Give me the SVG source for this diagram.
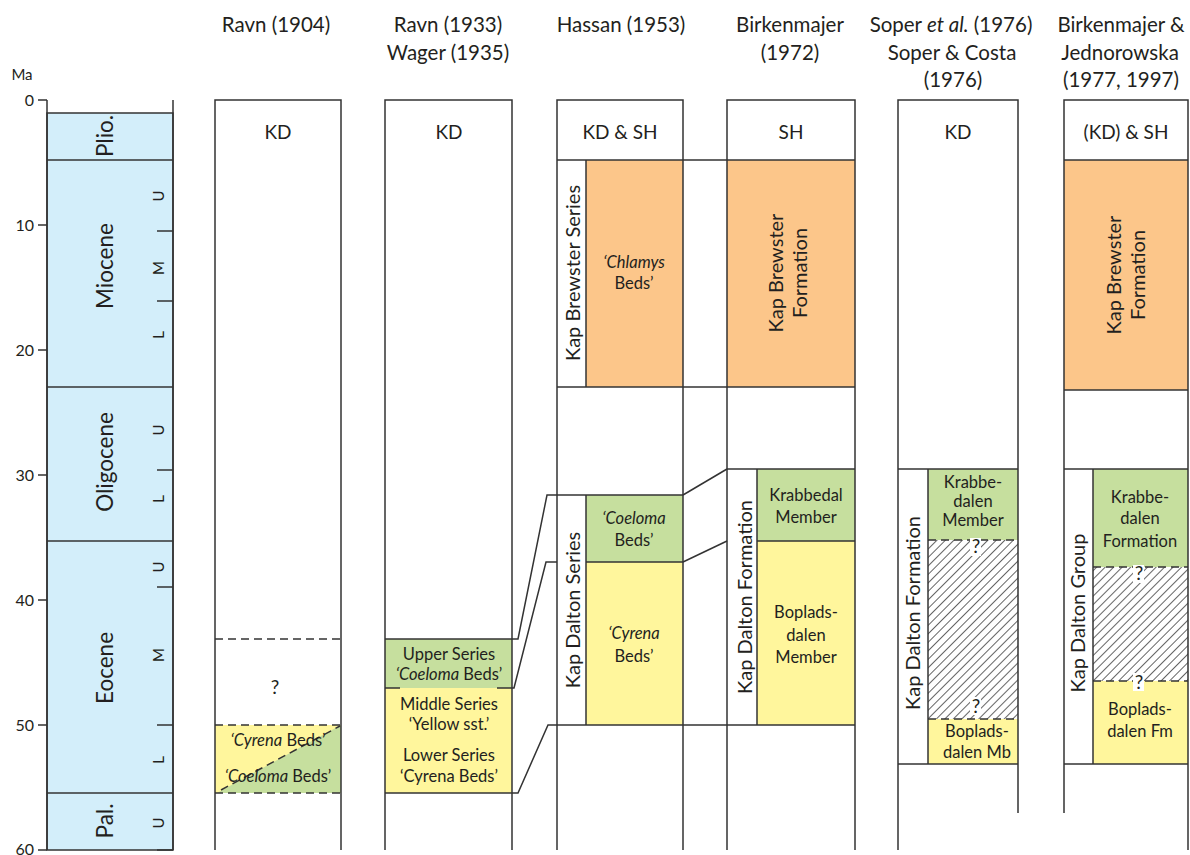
<svg xmlns="http://www.w3.org/2000/svg" width="1190" height="855" viewBox="0 0 1190 855">
<style>
text{font-family:Lato,"Liberation Sans",sans-serif;fill:#231f20}
.h{font-size:20.5px;text-anchor:middle}
.kd{font-size:19px;text-anchor:middle}
.t{font-size:16.5px;text-anchor:middle}
.q{font-size:19px;text-anchor:middle}
.r{font-size:20px;text-anchor:middle}
.ep{font-size:22.5px;text-anchor:middle}
.sub{font-size:15px;text-anchor:middle}
.num{font-size:16px;text-anchor:end}
.i{font-style:italic}
.ln{stroke:#333;stroke-width:1.5;fill:none}
.bx{stroke:#333;stroke-width:1.5}
.dash{stroke:#333;stroke-width:1.5;stroke-dasharray:8 5;fill:none}
.blue{fill:#d3eefa}
.or{fill:#fcc68a}
.gr{fill:#c6df9e}
.ye{fill:#fff69c}
.wh{fill:#fff}
</style>
<defs>
<pattern id="hatch" width="6" height="6" patternUnits="userSpaceOnUse" patternTransform="rotate(45)">
<rect width="6" height="6" fill="#fff"/>
<line x1="0" y1="0" x2="0" y2="6" stroke="#222" stroke-width="1.4"/>
</pattern>
</defs>
<rect width="1190" height="855" fill="#fff"/>

<g id="headers">
<text class="h" x="276" y="32">Ravn (1904)</text>
<text class="h" x="448" y="32">Ravn (1933)</text>
<text class="h" x="448" y="60">Wager (1935)</text>
<text class="h" x="621" y="32">Hassan (1953)</text>
<text class="h" x="790" y="32">Birkenmajer</text>
<text class="h" x="790" y="60">(1972)</text>
<text class="h" x="951" y="32">Soper <tspan class="i">et al.</tspan> (1976)</text>
<text class="h" x="952" y="60">Soper &amp; Costa</text>
<text class="h" x="953" y="87">(1976)</text>
<text class="h" x="1121" y="32">Birkenmajer &amp;</text>
<text class="h" x="1120" y="60">Jednorowska</text>
<text class="h" x="1121" y="87">(1977, 1997)</text>
</g>

<g id="timescale">
<text class="t" x="22" y="80" style="font-size:15px">Ma</text>
<rect class="blue bx" x="47" y="113" width="126" height="737"/>
<line class="ln" x1="47" y1="100" x2="47" y2="850"/>
<line class="ln" x1="173" y1="100" x2="173" y2="850"/>
<line class="ln" x1="47" y1="160" x2="173" y2="160"/>
<line class="ln" x1="47" y1="387" x2="173" y2="387"/>
<line class="ln" x1="47" y1="541" x2="173" y2="541"/>
<line class="ln" x1="47" y1="793" x2="173" y2="793"/>
<path class="ln" d="M38 100H47M38 225H47M38 350H47M38 475H47M38 600H47M38 725H47M38 850H47"/>
<path class="ln" d="M157 231H173M157 301H173M157 470H173M157 587H173M157 725H173M157 850H173"/>
<text class="num" x="34" y="106">0</text>
<text class="num" x="34" y="231">10</text>
<text class="num" x="34" y="356">20</text>
<text class="num" x="34" y="481">30</text>
<text class="num" x="34" y="606">40</text>
<text class="num" x="34" y="731">50</text>
<text class="num" x="34" y="855">60</text>
<text class="ep" transform="translate(113,136) rotate(-90)">Plio.</text>
<text class="ep" transform="translate(113,266) rotate(-90)">Miocene</text>
<text class="ep" transform="translate(113,462) rotate(-90)">Oligocene</text>
<text class="ep" transform="translate(113,668) rotate(-90)">Eocene</text>
<text class="ep" transform="translate(113,821) rotate(-90)">Pal.</text>
<text class="sub" transform="translate(164,196) rotate(-90)">U</text>
<text class="sub" transform="translate(164,268) rotate(-90)">M</text>
<text class="sub" transform="translate(164,335) rotate(-90)">L</text>
<text class="sub" transform="translate(164,430) rotate(-90)">U</text>
<text class="sub" transform="translate(164,499) rotate(-90)">L</text>
<text class="sub" transform="translate(164,567) rotate(-90)">U</text>
<text class="sub" transform="translate(164,655) rotate(-90)">M</text>
<text class="sub" transform="translate(164,760) rotate(-90)">L</text>
<text class="sub" transform="translate(164,823) rotate(-90)">U</text>
</g>

<g id="ravn1904">
<rect class="ye" x="215" y="725" width="126" height="68"/>
<polygon class="gr" points="217,793 341,725 341,793"/>
<path class="ln" d="M215 850V100H341V850"/>
<line class="dash" x1="215" y1="639" x2="341" y2="639"/>
<line class="dash" x1="215" y1="725" x2="341" y2="725"/>
<line class="dash" x1="215" y1="793" x2="341" y2="793"/>
<line class="dash" x1="221" y1="790" x2="340" y2="726"/>
<text class="kd" x="278" y="139">KD</text>
<text class="q" x="275" y="694">?</text>
<text class="t" x="278" y="746"><tspan class="i">‘Cyrena</tspan> Beds’</text>
<text class="t" x="278" y="782"><tspan class="i">‘Coeloma</tspan> Beds’</text>
</g>

<g id="ravn1933">
<rect class="gr" x="385" y="639" width="127" height="49"/>
<rect class="ye" x="385" y="688" width="127" height="105"/>
<path class="ln" d="M385 850V100H512V850"/>
<line class="ln" x1="385" y1="639" x2="512" y2="639"/>
<path class="ln" d="M385 688H400M497 688H512"/>
<line class="ln" x1="385" y1="793" x2="512" y2="793"/>
<text class="kd" x="449" y="139">KD</text>
<text class="t" x="449" y="660">Upper Series</text>
<text class="t" x="449" y="680"><tspan class="i">‘Coeloma</tspan> Beds’</text>
<text class="t" x="449" y="710">Middle Series</text>
<text class="t" x="449" y="730">‘Yellow sst.’</text>
<text class="t" x="449" y="761">Lower Series</text>
<text class="t" x="449" y="782">‘Cyrena Beds’</text>
</g>

<g id="hassan1953">
<rect class="or" x="586" y="160" width="97" height="227"/>
<rect class="gr" x="586" y="495" width="97" height="67"/>
<rect class="ye" x="586" y="562" width="97" height="163"/>
<path class="ln" d="M557 850V100H683V850"/>
<line class="ln" x1="557" y1="160" x2="683" y2="160"/>
<line class="ln" x1="557" y1="387" x2="683" y2="387"/>
<line class="ln" x1="586" y1="160" x2="586" y2="387"/>
<line class="ln" x1="557" y1="495" x2="683" y2="495"/>
<line class="ln" x1="586" y1="562" x2="683" y2="562"/>
<line class="ln" x1="586" y1="495" x2="586" y2="725"/>
<line class="ln" x1="557" y1="725" x2="683" y2="725"/>
<text class="kd" x="620" y="139">KD &amp; SH</text>
<text class="r" transform="translate(580,273) rotate(-90)">Kap Brewster Series</text>
<text class="t i" x="634" y="268">‘Chlamys</text>
<text class="t" x="634" y="289">Beds’</text>
<text class="r" transform="translate(580,610) rotate(-90)">Kap Dalton Series</text>
<text class="t i" x="634" y="524">‘Coeloma</text>
<text class="t" x="634" y="546">Beds’</text>
<text class="t i" x="634" y="639">‘Cyrena</text>
<text class="t" x="634" y="662">Beds’</text>
</g>

<g id="birkenmajer1972">
<rect class="or" x="727" y="160" width="128" height="227"/>
<rect class="gr" x="757" y="469" width="98" height="72"/>
<rect class="ye" x="757" y="541" width="98" height="184"/>
<path class="ln" d="M727 850V100H855V850"/>
<line class="ln" x1="727" y1="160" x2="855" y2="160"/>
<line class="ln" x1="727" y1="387" x2="855" y2="387"/>
<line class="ln" x1="727" y1="469" x2="855" y2="469"/>
<line class="ln" x1="757" y1="541" x2="855" y2="541"/>
<line class="ln" x1="757" y1="469" x2="757" y2="725"/>
<line class="ln" x1="727" y1="725" x2="855" y2="725"/>
<text class="kd" x="791" y="139">SH</text>
<text class="r" transform="translate(783,273) rotate(-90)">Kap Brewster</text>
<text class="r" transform="translate(807,273) rotate(-90)">Formation</text>
<text class="r" transform="translate(752,597) rotate(-90)">Kap Dalton Formation</text>
<text class="t" x="806" y="501">Krabbedal</text>
<text class="t" x="806" y="523">Member</text>
<text class="t" x="806" y="618">Boplads-</text>
<text class="t" x="806" y="641">dalen</text>
<text class="t" x="806" y="663">Member</text>
</g>

<g id="soper1976">
<rect class="gr" x="928" y="469" width="90" height="71"/>
<rect x="928" y="540" width="90" height="179" fill="url(#hatch)"/>
<rect class="ye" x="928" y="719" width="90" height="45"/>
<path class="ln" d="M898 850V100H1018V813"/>
<line class="ln" x1="898" y1="469" x2="1018" y2="469"/>
<line class="ln" x1="928" y1="469" x2="928" y2="764"/>
<line class="ln" x1="898" y1="764" x2="1018" y2="764"/>
<line class="dash" x1="928" y1="540" x2="1018" y2="540"/>
<line class="dash" x1="928" y1="719" x2="1018" y2="719"/>
<rect class="wh" x="970" y="538" width="11" height="18"/>
<rect class="wh" x="970" y="697" width="11" height="18"/>
<text class="kd" x="958" y="139">KD</text>
<text class="r" transform="translate(920,613) rotate(-90)">Kap Dalton Formation</text>
<text class="t" x="973" y="488">Krabbe-</text>
<text class="t" x="973" y="507">dalen</text>
<text class="t" x="973" y="526">Member</text>
<text class="q" x="976" y="553">?</text>
<text class="q" x="976" y="713">?</text>
<text class="t" x="977" y="737">Boplads-</text>
<text class="t" x="977" y="758">dalen Mb</text>
</g>

<g id="birkenmajer1997">
<rect class="or" x="1064" y="160" width="124" height="230"/>
<rect class="gr" x="1093" y="469" width="95" height="98"/>
<rect x="1093" y="567" width="95" height="114" fill="url(#hatch)"/>
<rect class="ye" x="1093" y="681" width="95" height="83"/>
<path class="ln" d="M1064 813V100H1188V850"/>
<line class="ln" x1="1064" y1="160" x2="1188" y2="160"/>
<line class="ln" x1="1064" y1="390" x2="1188" y2="390"/>
<line class="ln" x1="1064" y1="469" x2="1188" y2="469"/>
<line class="ln" x1="1093" y1="469" x2="1093" y2="764"/>
<line class="ln" x1="1064" y1="764" x2="1188" y2="764"/>
<line class="dash" x1="1093" y1="567" x2="1188" y2="567"/>
<line class="dash" x1="1093" y1="681" x2="1188" y2="681"/>
<rect class="wh" x="1133" y="565" width="11" height="18"/>
<rect class="wh" x="1133" y="673" width="11" height="18"/>
<text class="kd" x="1126" y="139">(KD) &amp; SH</text>
<text class="r" transform="translate(1121,275) rotate(-90)">Kap Brewster</text>
<text class="r" transform="translate(1145,275) rotate(-90)">Formation</text>
<text class="r" transform="translate(1085,613) rotate(-90)">Kap Dalton Group</text>
<text class="t" x="1140" y="503">Krabbe-</text>
<text class="t" x="1140" y="524">dalen</text>
<text class="t" x="1140" y="547">Formation</text>
<text class="q" x="1139" y="580">?</text>
<text class="q" x="1139" y="689">?</text>
<text class="t" x="1140" y="715">Boplads-</text>
<text class="t" x="1140" y="737">dalen Fm</text>
</g>

<g id="connectors">
<path class="ln" d="M512 639H518L547 495H557"/>
<path class="ln" d="M512 688H514L546 562H557"/>
<path class="ln" d="M512 793H518L548 725H557"/>
<path class="ln" d="M683 160H727M683 387H727M683 725H727"/>
<path class="ln" d="M683 495L727 469"/>
<path class="ln" d="M683 562L727 541"/>
</g>
</svg>
